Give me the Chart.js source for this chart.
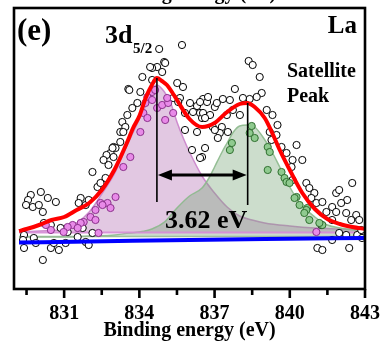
<!DOCTYPE html>
<html>
<head>
<meta charset="utf-8">
<script src="https://cdn.jsdelivr.net/npm/chart.js"></script>
<style>
    body{margin:0;background:#fff;}
    canvas{display:block;}
</style>
</head>
<body>
<canvas id="xps_la" width="381" height="347"></canvas>
<script>
// binding energy axis
const xMin = 829;
const xMax = 843;
const majorTicks = [831, 834, 837, 840, 843];
const minorTicks = [829.5, 832.5, 835.5, 838.5, 841.5];

// fitted envelope (red)
const envX = [829.2, 829.5, 830, 830.5, 831, 831.5, 832, 832.5, 833, 833.25, 833.5, 833.75, 834, 834.25, 834.5, 834.7, 834.9, 835.1, 835.3, 835.5, 836, 836.5, 837, 837.5, 838, 838.3, 838.6, 839, 839.3, 839.6, 840, 840.5, 841, 841.5, 842, 842.5, 843];
const envY = [58, 60, 64, 69, 72, 79, 86, 99, 119, 132, 146, 161, 173, 191, 204, 211, 208, 204, 197, 189, 170, 162, 166, 177, 185, 186, 182, 171, 156, 139, 119, 96, 80, 70, 65, 62, 60];

// 3d5/2 component (purple)
const mainX = [829.2, 830, 831, 831.5, 832, 832.5, 833, 833.5, 834, 834.3, 834.5, 834.7, 835, 835.25, 835.5, 835.75, 836, 836.5, 837, 837.5, 838, 838.5, 839, 840, 841, 842, 843];
const mainY = [57, 58, 60, 66, 77, 95, 115, 143, 170, 186, 199, 204, 197, 186, 167, 151, 137, 113, 96, 82, 73, 69, 66, 63, 61, 60, 59];
const mainBase = 56.5;

// satellite component (green)
const satX = [829.2, 831, 832, 833, 833.6, 834, 834.5, 835, 835.5, 836, 836.5, 836.8, 837, 837.3, 837.5, 837.75, 838, 838.3, 838.6, 838.9, 839.25, 839.6, 840, 840.4, 841, 841.5, 842, 843];
const satY = [52, 52, 53, 54, 56, 57, 60, 67, 81, 93, 101, 112, 122, 137, 146, 157, 163, 164, 162, 153, 139, 122, 102, 86, 72, 64, 61, 58];
const satBase = 52.5;

// background (blue)
const bgX = [829.2, 832, 836, 839, 843];
const bgY = [46.5, 47.5, 49, 50, 51];

// raw counts (open circles)
const rawX = [834.79, 835.70, 834.99, 834.71, 834.51, 834.91, 834.12, 834.51, 835.51, 835.74, 833.56, 834.04, 835.62, 833.92, 833.72, 833.52, 833.32, 833.44, 833.24, 832.97, 833.05, 832.85, 832.69, 832.77, 832.13, 835.82,
    838.36, 838.52, 838.80, 837.81, 838.88, 838.68, 838.40, 838.13, 837.61, 837.33, 836.54, 836.70, 836.30, 837.01, 837.73, 836.14, 836.42, 836.82, 837.49, 838.01, 839.08, 839.31, 839.51, 836.93, 837.29, 836.50, 837.21, 836.30, 837.53, 839.20, 839.47, 839.27, 840.27, 839.67, 839.87, 836.50, 836.10, 840.11, 840.07, 840.11,
    833.60, 834.43, 835.03, 835.35, 835.55, 836.02, 836.42, 836.74, 837.09, 836.54, 836.62, 835.82, 837.01, 837.13, 836.62, 836.42, 833.36, 833.24, 832.93, 832.97, 832.57, 832.65,
    829.67, 830.07, 829.56, 829.48, 829.75, 829.99, 830.35, 830.67, 830.15, 831.66, 831.58, 831.86, 831.98, 832.33, 832.45, 829.40, 829.36, 829.40, 829.79, 829.87, 830.47, 830.79, 830.59, 831.06, 830.15, 831.86, 831.98, 831.54, 830.47, 830.19, 830.86, 831.14, 831.74, 832.13,
    840.66, 840.78, 840.98, 840.86, 841.06, 841.30, 841.85, 841.97, 842.49, 842.29, 842.05, 841.69, 841.46, 841.85, 842.25, 842.65, 842.77, 842.45, 841.69, 841.26, 841.97, 842.25, 842.69, 841.69, 842.37, 841.10, 841.30, 842.85, 842.88, 840.50];
const rawY = [240, 244, 227, 222, 221, 217, 212, 209, 206, 202, 200, 197, 191, 186, 181, 174, 167, 162, 157, 142, 141, 136, 134, 124, 117, 176,
    228, 224, 212, 200, 196, 192, 190, 191, 189, 190, 190, 187, 183, 182, 179, 177, 176, 174, 174, 174, 179, 174, 164, 162, 162, 171, 156, 157, 157, 157, 154, 149, 144, 142, 136, 132, 139, 129, 122, 109,
    199, 222, 226, 191, 187, 186, 187, 192, 186, 176, 171, 159, 159, 151, 141, 131, 157, 147, 141, 132, 129, 111,
    94, 97, 89, 84, 82, 84, 91, 87, 77, 91, 86, 84, 89, 102, 106, 54, 49, 41, 51, 46, 41, 39, 46, 46, 29, 47, 44, 52, 64, 66, 61, 57, 61, 56,
    106, 101, 96, 91, 86, 87, 96, 99, 106, 89, 86, 82, 77, 77, 76, 74, 69, 69, 69, 64, 56, 54, 54, 49, 41, 41, 39, 59, 51, 129];

// points assigned to 3d5/2 (magenta)
const mainPtsX = [834.51, 834.32, 834.24, 834.51, 834.71, 834.91, 835.15, 835.11, 834.16, 834.32, 835.03, 834.04, 833.64, 833.36, 834.63, 835.35, 833.05, 832.73, 832.45, 832.25, 832.53, 832.05, 832.25, 831.78, 831.66, 831.34, 831.14, 831.54, 830.98, 830.47, 830.27, 832.37, 832.85, 841.06];
const mainPtsY = [197, 192, 186, 189, 181, 184, 186, 191, 176, 171, 169, 157, 132, 122, 199, 176, 92, 86, 86, 79, 84, 72, 69, 67, 66, 64, 62, 61, 57, 59, 64, 56, 81, 57];

// points assigned to satellite (green)
const satPtsX = [838.48, 838.60, 837.69, 837.61, 839.12, 839.20, 839.12, 839.67, 839.79, 839.87, 840.27, 840.39, 840.70, 838.40, 840.19, 840.66, 840.58, 840.78, 841.30, 841.18, 839.99];
const satPtsY = [163, 151, 146, 139, 142, 137, 119, 117, 111, 107, 92, 84, 81, 156, 91, 79, 76, 69, 64, 66, 106];

// splitting annotation
const peakMain = 834.7;
const peakSat = 838.32;
const arrowLevel = 114;
const mainLine = [211, 87];
const satLine = [186, 84];

const serif = "'Liberation Serif', 'Times New Roman', serif";

function pts(xs, ys){
    return xs.map(function(x, i){ return {x: x, y: ys[i]}; });
}

function curve(xs, ys, color, width, extra){
    return Object.assign({
        data: pts(xs, ys),
        borderColor: color,
        borderWidth: width,
        pointRadius: 0,
        cubicInterpolationMode: 'monotone',
        fill: false
    }, extra || {});
}

function dots(xs, ys, fill, stroke, order){
    return {
        data: pts(xs, ys),
        showLine: false,
        pointRadius: 3.6,
        pointBackgroundColor: fill,
        pointBorderColor: stroke,
        pointBorderWidth: 1,
        order: order
    };
}

const decor = {
    id: 'decor',
    afterDraw: function(chart){
        var ctx = chart.ctx;
        var a = chart.chartArea;
        var xs = chart.scales.x;
        var ys = chart.scales.y;
        ctx.save();

        // frame
        ctx.strokeStyle = '#000';
        ctx.lineWidth = 2.6;
        ctx.strokeRect(a.left, a.top, a.right - a.left, a.bottom - a.top);

        // outward ticks
        majorTicks.forEach(function(v){
            var px = xs.getPixelForValue(v);
            ctx.beginPath(); ctx.moveTo(px, a.bottom); ctx.lineTo(px, a.bottom + 9); ctx.stroke();
        });
        minorTicks.forEach(function(v){
            var px = xs.getPixelForValue(v);
            ctx.beginPath(); ctx.moveTo(px, a.bottom); ctx.lineTo(px, a.bottom + 6); ctx.stroke();
        });

        // vertical markers + double arrow
        var x1 = xs.getPixelForValue(peakMain);
        var x2 = xs.getPixelForValue(peakSat);
        ctx.lineWidth = 1.6;
        ctx.beginPath();
        ctx.moveTo(x1, ys.getPixelForValue(mainLine[0])); ctx.lineTo(x1, ys.getPixelForValue(mainLine[1]));
        ctx.moveTo(x2, ys.getPixelForValue(satLine[0])); ctx.lineTo(x2, ys.getPixelForValue(satLine[1]));
        ctx.stroke();
        var ay = ys.getPixelForValue(arrowLevel);
        ctx.lineWidth = 3;
        ctx.beginPath(); ctx.moveTo(x1 + 10, ay); ctx.lineTo(x2 - 10, ay); ctx.stroke();
        ctx.fillStyle = '#000';
        ctx.beginPath(); ctx.moveTo(x1 + 1, ay); ctx.lineTo(x1 + 15, ay - 5.5); ctx.lineTo(x1 + 15, ay + 5.5); ctx.closePath(); ctx.fill();
        ctx.beginPath(); ctx.moveTo(x2 - 1, ay); ctx.lineTo(x2 - 15, ay - 5.5); ctx.lineTo(x2 - 15, ay + 5.5); ctx.closePath(); ctx.fill();

        // labels
        ctx.textBaseline = 'alphabetic';
        ctx.textAlign = 'left';
        ctx.font = 'bold 31px ' + serif;
        ctx.fillText('(e)', 17, 40);
        ctx.font = 'bold 26px ' + serif;
        ctx.fillText('3d', 105, 43);
        ctx.font = 'bold 15px ' + serif;
        ctx.fillText('5/2', 133, 53);
        ctx.font = 'bold 20px ' + serif;
        ctx.fillText('Satellite', 287, 77);
        ctx.fillText('Peak', 287, 102);
        ctx.font = 'bold 26px ' + serif;
        ctx.fillText('3.62 eV', 165, 228);
        ctx.textAlign = 'right';
        ctx.font = 'bold 25px ' + serif;
        ctx.fillText('La', 357, 33);
        // axis title of the panel above, cut off by the crop
        ctx.textAlign = 'center';
        ctx.font = 'bold 20px ' + serif;
        ctx.fillText('Binding energy (eV)', 190, -1);
        ctx.restore();
    }
};

function graph(){
    const data = {
        datasets: [
            curve(envX, envY, '#ff0000', 4, {order: 1}),
            curve(bgX, bgY, '#0000ff', 4, {order: 2}),
            dots(rawX, rawY, '#ffffff', '#000000', 5),
            dots(mainPtsX, mainPtsY, '#e88ae8', '#8a2f8a', 4),
            dots(satPtsX, satPtsY, '#8fca8f', '#2f6f2f', 4),
            curve([bgX[0], xMax], [mainBase, mainBase], 'rgba(215,140,215,0.9)', 2, {order: 8}),
            curve([bgX[0], xMax], [satBase, satBase], 'rgba(150,185,150,0.9)', 1.5, {order: 8}),
            curve(mainX, mainY, 'rgba(200,125,200,0.85)', 1.5, {order: 10, fill: {value: mainBase}, backgroundColor: 'rgba(185,125,185,0.42)'}),
            curve(satX, satY, 'rgba(140,185,140,0.9)', 1.5, {order: 9, fill: {value: satBase}, backgroundColor: 'rgba(120,165,120,0.38)'})
        ]
    };

    const cfg = {
        type: 'line',
        data: data,
        options: {
            responsive: false,
            animation: false,
            devicePixelRatio: 1,
            layout: {padding: {left: 14, right: 16, top: 8, bottom: 0}},
            plugins: {
                legend: {display: false},
                tooltip: {enabled: false}
            },
            scales: {
                x: {
                    type: 'linear',
                    min: xMin,
                    max: xMax,
                    afterBuildTicks: function(s){
                        s.ticks = majorTicks.map(function(v){ return {value: v}; });
                    },
                    afterFit: function(s){
                        s.height = 58;
                        s.paddingLeft = 0;
                        s.paddingRight = 0;
                    },
                    grid: {display: false, drawTicks: false},
                    border: {display: false},
                    ticks: {
                        padding: 13,
                        color: '#000',
                        font: {family: serif, weight: 'bold', size: 20},
                        maxRotation: 0
                    },
                    title: {
                        display: true,
                        text: 'Binding energy (eV)',
                        color: '#000',
                        font: {family: serif, weight: 'bold', size: 20},
                        padding: {top: 0, bottom: 4}
                    }
                },
                y: {
                    min: 0,
                    max: 281,
                    display: false
                }
            }
        },
        plugins: [decor]
    };

    new Chart(document.getElementById('xps_la'), cfg);
}

graph();
</script>
</body>
</html>
